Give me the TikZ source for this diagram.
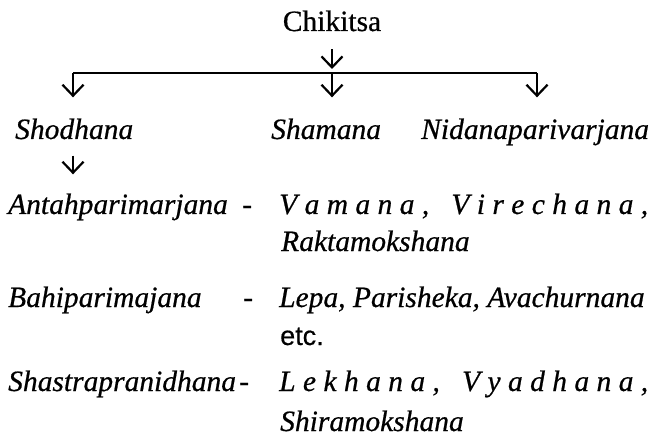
\documentclass[tikz,border=0pt]{standalone}
\usepackage{fontspec}
\setmainfont{Liberation Serif}[FakeBold=0.6]
\newfontfamily\etcfont{Liberation Sans}[FakeBold=0.4]
\usetikzlibrary{arrows.meta}
\tikzset{
 txt/.style={inner sep=0pt,anchor=base west,font=\fontsize{29.5}{34}\selectfont\itshape},
 arr/.style={line width=1.8pt,-{Straight Barb[length=11pt,width=21pt,line width=2.2pt]}},
}
% letter spaced lines, stretched to a given width
\newcommand{\spreadline}[2]{\makebox[#1][s]{#2}}

\begin{document}
\begin{tikzpicture}[x=1pt,y=-1pt]
\useasboundingbox (0,0) rectangle (652,438);
% head and first level
\node[txt,anchor=base,font=\fontsize{29.5}{34}\selectfont] (chik) at (332,31) {Chikitsa};
\node[txt] (shodhana) at (15,139) {Shodhana};
\node[txt] (shamana) at (271,139) {Shamana};
\node[txt] (nidana) at (421,139) {Nidanaparivarjana};
% bar
\coordinate (barL) at (73,73);
\coordinate (barM) at (332,73);
\coordinate (barR) at (537,73);
\draw[line width=1.8pt] (barL) -- (barR);
\draw[arr,shorten <=18pt,shorten >=4pt] (chik.south) -- (barM);
\foreach \b/\n in {barL/shodhana,barM/shamana,barR/nidana}
\draw[arr,shorten >=21pt] (\b) -- (\b |- \n.north);
% kinds of Shodhana
\node[txt] (antah) at (8,214) {Antahparimarjana};
\node[txt] (dashA) at (242,214) {-};
\node[txt] (vamana) at (279,214) {\spreadline{369pt}{V a m a n a ,\ \ \ V i r e c h a n a ,}};
\node[txt] (rakta) at (281,251) {Raktamokshana};
\node[txt] (bahi) at (8,307) {Bahiparimajana};
\node[txt] (dashB) at (243,307) {-};
\node[txt] (lepa) at (279,307) {Lepa, Parisheka, Avachurnana};
\node[txt,font=\fontsize{27}{32}\selectfont\etcfont] (etc) at (280,345) {etc.};
\node[txt] (shastra) at (8,391) {Shastrapranidhana};
\node[txt] (dashC) at (239,391) {-};
\node[txt] (lekhana) at (279,391) {\spreadline{369pt}{L e k h a n a ,\ \ \ V y a d h a n a ,}};
\node[txt] (shira) at (280,431) {Shiramokshana};
\draw[arr,shorten <=16pt,shorten >=19pt] (barL |- shodhana.south) -- (barL |- antah.north);
\end{tikzpicture}
\end{document}
